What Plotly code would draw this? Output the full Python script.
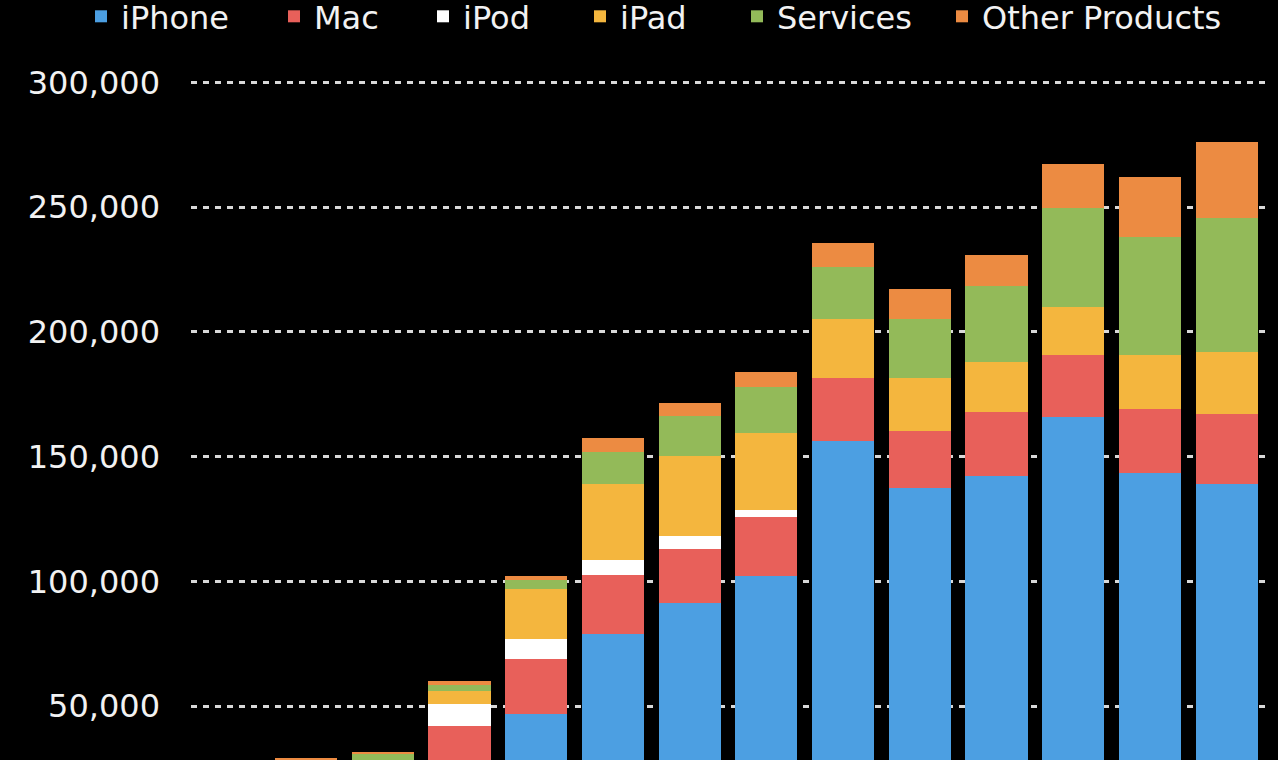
import plotly.graph_objects as go

years = [str(y) for y in range(2007, 2021)]
iphone = [100, 1800, 6800, 25000, 46900, 79000, 91400, 102300, 156300, 137600, 142200, 166100, 143600, 138900]
mac = [10300, 14300, 13800, 17100, 22000, 23700, 21700, 23600, 25400, 22700, 25700, 24600, 25400, 28100]
ipod = [8300, 9200, 7500, 8800, 8000, 5800, 5000, 2900, 0, 0, 0, 0, 0, 0]
ipad = [0, 0, 0, 5000, 20100, 30400, 32100, 30600, 23400, 21400, 19900, 19400, 21700, 24800]
services = [2500, 2900, 3000, 2700, 3400, 12900, 16100, 18700, 20800, 23700, 30500, 39500, 47300, 53800]
other = [3000, 1000, 700, 1300, 1600, 5500, 5400, 5900, 9600, 11800, 12500, 17800, 24000, 30700]

series = [
    ("iPhone", iphone, "#4c9fe2"),
    ("Mac", mac, "#e8605a"),
    ("iPod", ipod, "#ffffff"),
    ("iPad", ipad, "#f4b63e"),
    ("Services", services, "#93ba59"),
    ("Other Products", other, "#ec8b42"),
]
# legend item left positions in pixels (marker left edge)
legend_px = [95, 288, 437, 594, 751, 956]

L, R = 191, 13
W, H = 1278, 760
plot_w = W - L - R

fig = go.Figure()
layout_legends = {}
for i, (name, vals, col) in enumerate(series):
    key = "legend" if i == 0 else f"legend{i+1}"
    fig.add_trace(go.Bar(
        x=years, y=vals, name=name, marker=dict(color=col, line=dict(width=0)),
        legend=key,
    ))
    layout_legends[key] = dict(
        x=(legend_px[i] - 14 - L) / plot_w, xanchor="left",
        y=1 + 11 / H, yanchor="top",
        bgcolor="rgba(0,0,0,0)", borderwidth=0,
        font=dict(family="DejaVu Sans", size=32, color="#f2f2f2"),
        orientation="h",
    )

fig.update_layout(
    barmode="stack",
    bargap=0.19,
    width=W, height=H,
    margin=dict(l=L, r=R, t=0, b=0, pad=0, autoexpand=False),
    paper_bgcolor="#000000",
    plot_bgcolor="#000000",
    showlegend=True,
    **layout_legends,
)
fig.update_xaxes(showticklabels=False, showgrid=False, zeroline=False, showline=False,
                 automargin=False)
fig.update_yaxes(
    range=[28400, 333100],
    tickvals=[50000, 100000, 150000, 200000, 250000, 300000],
    tickformat=",d",
    showgrid=True, gridcolor="#d8d8d8", gridwidth=2.5, griddash="6px,6px",
    zeroline=False, showline=False, automargin=False,
    ticklabelstandoff=30,
    tickfont=dict(family="DejaVu Sans", size=32, color="#f2f2f2"),
)

fig.write_html(
    "out.html",
    config={"displayModeBar": False},
    post_script="document.body.style.margin='0px';document.body.style.background='#000000';",
)
